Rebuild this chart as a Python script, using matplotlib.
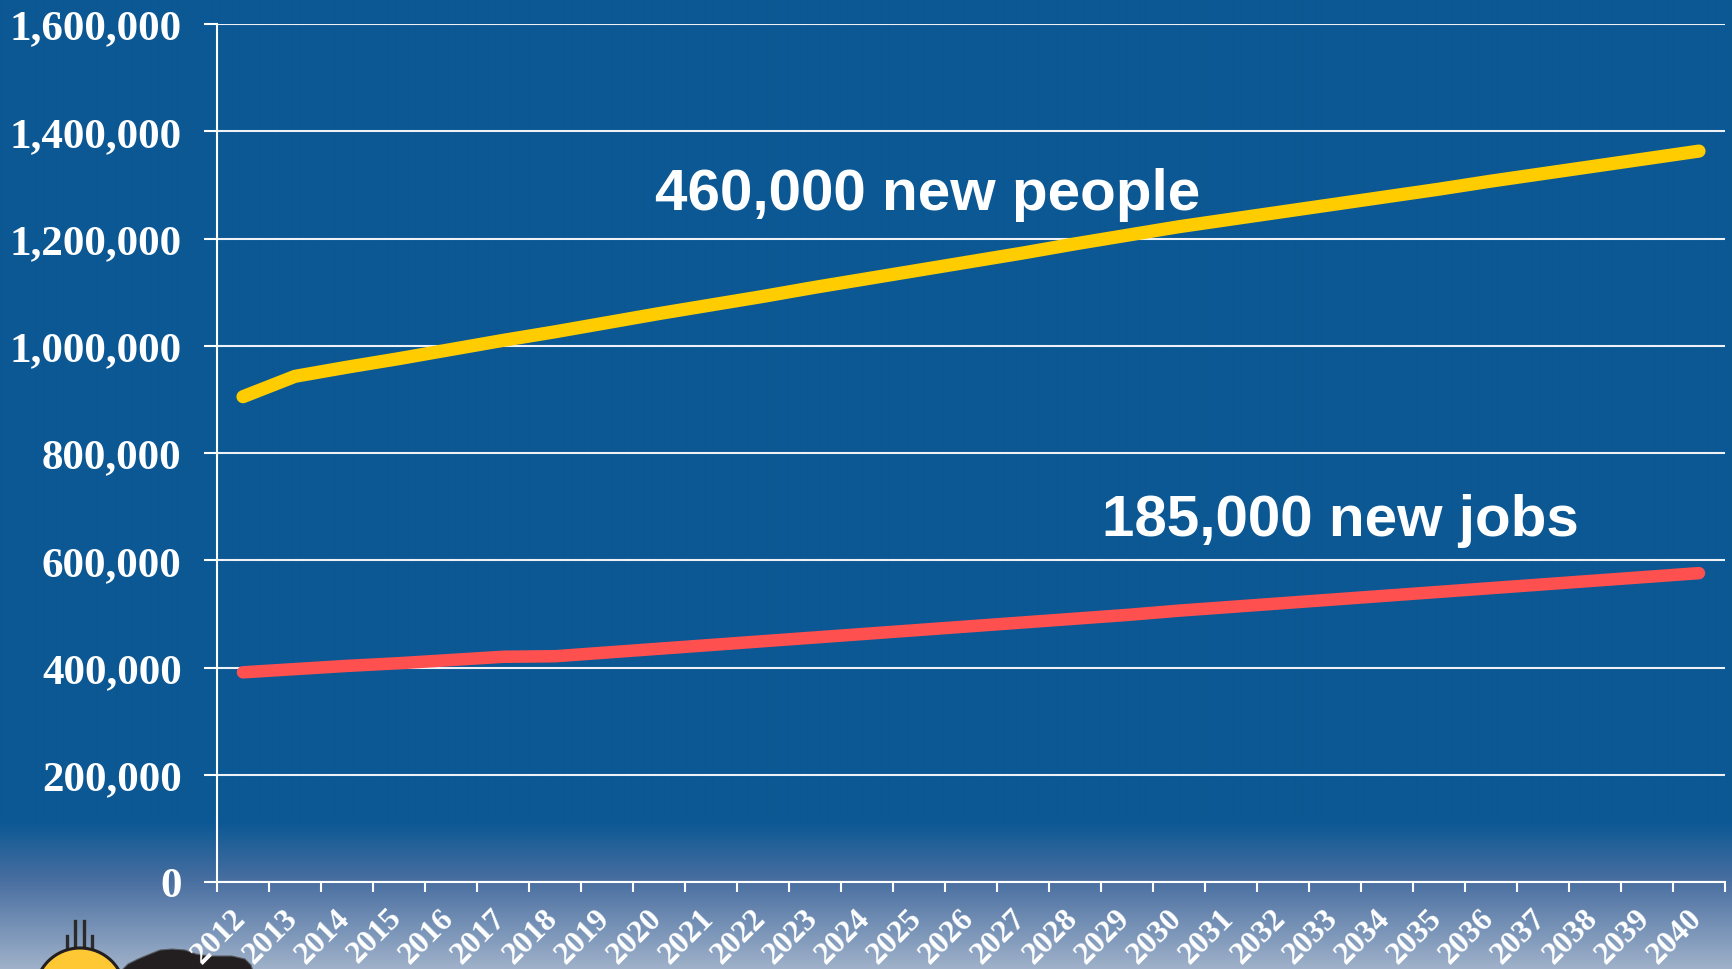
import numpy as np
import matplotlib
matplotlib.use("Agg")
import matplotlib.pyplot as plt
from matplotlib.patches import Circle, Polygon
from matplotlib.lines import Line2D
from matplotlib.transforms import ScaledTranslation

# Forecast years and regional totals
years = ["2012", "2013", "2014", "2015", "2016", "2017", "2018", "2019", "2020",
         "2021", "2022", "2023", "2024", "2025", "2026", "2027", "2028", "2029",
         "2030", "2031", "2032", "2033", "2034", "2035", "2036", "2037", "2038",
         "2039", "2040"]

population = [905000, 943000, 960000, 976000, 993000, 1010000, 1026000, 1043000,
              1060000, 1076000, 1092000, 1109000, 1125000, 1141000, 1157000,
              1173000, 1190000, 1206000, 1222000, 1236000, 1250000, 1264000,
              1278000, 1292000, 1307000, 1321000, 1335000, 1349000, 1363000]

jobs = [391000, 397000, 403000, 408000, 414000, 420000, 421000, 428000, 435000,
        442000, 449000, 456000, 463000, 470000, 477000, 484000, 491000, 498000,
        506000, 513000, 520000, 527000, 534000, 541000, 548000, 555000, 562000,
        569000, 576000]

y_ticks = [0, 200000, 400000, 600000, 800000, 1000000, 1200000, 1400000, 1600000]

people_note = "460,000 new people"
jobs_note = "185,000 new jobs"

W, H = 1733, 970
fig = plt.figure(figsize=(W / 100, H / 100), dpi=100)

# Background: flat blue fading to a pale steel blue at the bottom
bg = fig.add_axes([0, 0, 1, 1], zorder=0)
bg.axis("off")
rows = np.arange(H)
stops_y = [0, 822, 880, 970]
stops_c = np.array([[11, 88, 148], [11, 88, 148], [72, 110, 160], [160, 178, 202]]) / 255.0
grad = np.stack([np.interp(rows, stops_y, stops_c[:, k]) for k in range(3)], axis=1)
img = np.repeat(grad[:, None, :], 4, axis=1)
bg.imshow(img, aspect="auto", extent=[0, W, H, 0], interpolation="bilinear")
bg.set_xlim(0, W)
bg.set_ylim(H, 0)

# Logo in the lower-left corner (pixel coordinates)
bulb = Circle((80, 994), 45, facecolor="#FDC834", edgecolor="#231f20", lw=2.2, zorder=3)
bg.add_patch(bulb)
for sx, top in [(67.5, 937), (75.5, 922), (84, 922), (92.5, 937)]:
    bg.add_line(Line2D([sx, sx], [top, 953], color="#2b2b2b", lw=2.4, zorder=2))
blob = Polygon([(121, 972), (128, 965), (138, 960), (150, 955), (160, 951),
                (172, 950), (185, 951), (196, 955), (210, 957), (232, 957),
                (245, 960), (251, 966), (253, 972)],
               closed=True, facecolor="#231f20", edgecolor="#5a5f66", lw=0.8, zorder=3)
bg.add_patch(blob)

# Main chart
left, right, top, bottom = 217, 1725, 25, 883
ax = fig.add_axes([left / W, 1 - bottom / H, (right - left) / W, (bottom - top) / H], zorder=1)
ax.set_facecolor("none")

x = np.arange(len(years))
ax.plot(x, population, color="#FFCC00", lw=9.5, solid_capstyle="round",
        solid_joinstyle="round", zorder=3)
ax.plot(x, jobs, color="#FF5050", lw=9.0, solid_capstyle="round",
        solid_joinstyle="round", zorder=3)

ax.set_xlim(-0.5, len(years) - 0.5)
ax.set_ylim(y_ticks[0], y_ticks[-1])

ax.set_yticks(y_ticks)
ax.set_yticklabels([f"{v:,}" for v in y_ticks])
ax.yaxis.grid(True, color="#eef2f7", lw=1.5, zorder=1)
ax.xaxis.grid(False)

for side in ("top", "right"):
    ax.spines[side].set_visible(False)
for side in ("left", "bottom"):
    ax.spines[side].set_color("white")
    ax.spines[side].set_linewidth(1.5)

ax.tick_params(axis="y", direction="out", length=9.4, width=1.5, color="white",
               labelcolor="white", labelsize=31, pad=16)
for lbl in ax.get_yticklabels():
    lbl.set_fontfamily("Liberation Serif")
    lbl.set_fontweight("bold")

ax.set_xticks(x)
ax.set_xticklabels(years, rotation=45, ha="right", va="top")
ax.set_xticks(np.arange(-0.5, len(years), 1.0), minor=True)
ax.tick_params(axis="x", which="major", length=0, pad=15, labelcolor="white", labelsize=23)
ax.tick_params(axis="x", which="minor", direction="out", length=7.2, width=1.5, color="white")
shift = ScaledTranslation(0.09, 0, fig.dpi_scale_trans)
for lbl in ax.get_xticklabels():
    lbl.set_fontfamily("Liberation Serif")
    lbl.set_fontweight("bold")
    lbl.set_transform(lbl.get_transform() + shift)

# Growth callouts
fig.text(655 / W, 1 - 210 / H, people_note, fontsize=42, fontfamily="Liberation Sans",
         fontweight="bold", color="white", ha="left", va="baseline", zorder=5)
fig.text(1102 / W, 1 - 536 / H, jobs_note, fontsize=42, fontfamily="Liberation Sans",
         fontweight="bold", color="white", ha="left", va="baseline", zorder=5)

fig.savefig("out.png", dpi=100, facecolor=fig.get_facecolor())
